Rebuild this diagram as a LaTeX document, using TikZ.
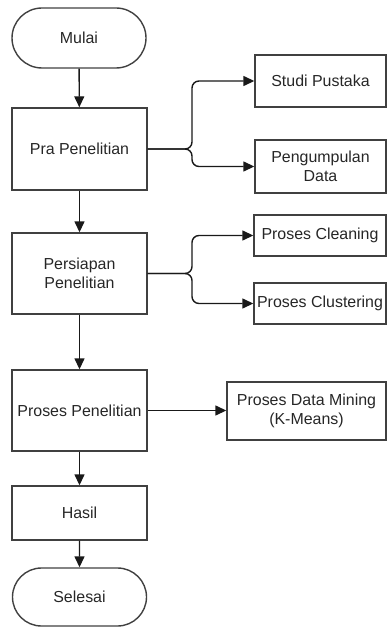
\documentclass[tikz,border=0pt]{standalone}
\usepackage{fontspec}
\setmainfont{Liberation Sans}
\usetikzlibrary{arrows.meta,shapes.misc}

\begin{document}
\begin{tikzpicture}[x=1bp, y=-1bp,
  every node/.style={font=\fontsize{16}{18.5}\selectfont, text=black!85, align=center, inner sep=0pt},
  prosesbox/.style={draw=black!75, line width=1.4bp, rectangle},
  terminal/.style={draw=black!75, line width=1.4bp, rounded rectangle, minimum width=134bp},
  panah/.style={-{Triangle[length=11bp,width=10bp]}, line width=1.4bp, black!90},
  cabang/.style={panah, rounded corners=7bp}]
  \useasboundingbox (0,0) rectangle (387,627);

  % alur utama (kolom kiri)
  \node[terminal, minimum height=60bp] (mulai) at (79,38) {Mulai};
  \node[prosesbox, minimum width=135bp, minimum height=82bp] (pra) at (79.5,149) {Pra Penelitian};
  \node[prosesbox, minimum width=135bp, minimum height=81bp] (persiapan) at (79.5,273.5) {Persiapan\\Penelitian};
  \node[prosesbox, minimum width=135bp, minimum height=81bp] (proses) at (79.5,410.5) {Proses Penelitian};
  \node[prosesbox, minimum width=135bp, minimum height=54bp] (hasil) at (79.5,513) {Hasil};
  \node[terminal, minimum height=58bp] (selesai) at (79.5,597) {Selesai};

  % kegiatan tiap tahap (kolom kanan)
  \node[prosesbox, minimum width=131bp, minimum height=52bp] (studi) at (320.5,81) {Studi Pustaka};
  \node[prosesbox, minimum width=131bp, minimum height=53bp] (kumpul) at (320.5,166.5) {Pengumpulan\\Data};
  \node[prosesbox, minimum width=132bp, minimum height=41bp] (cleaning) at (320,235.5) {Proses Cleaning};
  \node[prosesbox, minimum width=132bp, minimum height=41bp] (clustering) at (320,303.5) {Proses Clustering};
  \node[prosesbox, minimum width=159bp, minimum height=58bp] (mining) at (306.5,411) {Proses Data Mining\\(K-Means)};

  % panah utama
  \draw[panah] (mulai) -- (pra);
  \draw[panah] (pra) -- (persiapan);
  \draw[panah] (persiapan) -- (proses);
  \draw[panah] (proses) -- (hasil);
  \draw[panah] (hasil) -- (selesai);

  % percabangan
  \coordinate (b1) at (192,149);
  \coordinate (b2) at (192,273.5);
  \draw[cabang] (pra.east) -- (b1) |- (studi.west);
  \draw[cabang] (pra.east) -- (b1) |- (kumpul.west);
  \draw[cabang] (persiapan.east) -- (b2) |- (cleaning.west);
  \draw[cabang] (persiapan.east) -- (b2) |- (clustering.west);
  \draw[panah] (proses.east) -- (mining.west |- proses.east);
\end{tikzpicture}
\end{document}
